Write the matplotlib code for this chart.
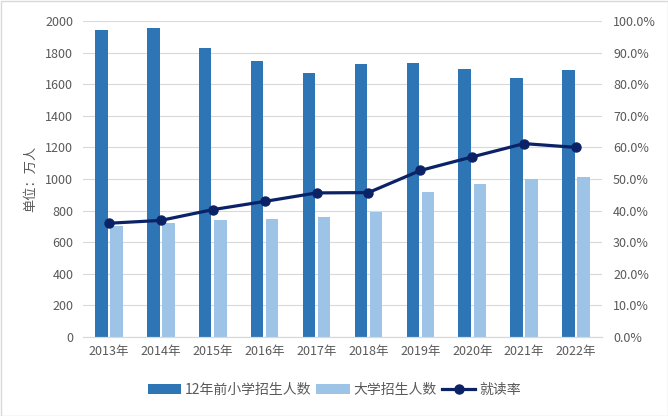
import matplotlib
matplotlib.use("Agg")
import matplotlib.pyplot as plt
from matplotlib.patches import Rectangle
from matplotlib.ticker import FuncFormatter, MultipleLocator
import numpy as np

plt.rcParams['font.family'] = ['Noto Sans CJK SC', 'DejaVu Sans']

years = ["2013年", "2014年", "2015年", "2016年", "2017年",
         "2018年", "2019年", "2020年", "2021年", "2022年"]
primary = [1944, 1953, 1829, 1747, 1671, 1729, 1736, 1696, 1637, 1692]
college = [699.8, 721.4, 737.8, 748.6, 761.5, 791.0, 914.9, 967.5, 1001.3, 1014.5]
rate = [36.0, 36.9, 40.3, 42.9, 45.6, 45.7, 52.7, 57.0, 61.2, 60.0]

c_dark = "#2E75B6"
c_light = "#9DC3E6"
c_line = "#0B2366"
c_text = "#595959"
c_grid = "#D9D9D9"

fig = plt.figure(figsize=(6.68, 4.16), dpi=100)
ax = fig.add_axes([83/668, 1-337/416, (602-83)/668, (337-21)/416])
ax2 = ax.twinx()

x = np.arange(len(years))
w = 0.24
off = 0.145
b1 = ax.bar(x - off, primary, w, color=c_dark, label="12年前小学招生人数", zorder=2)
b2 = ax.bar(x + off, college, w, color=c_light, label="大学招生人数", zorder=2)
l1, = ax2.plot(x, rate, color=c_line, lw=2.3, marker="o", ms=6.5, label="就读率", zorder=3)

ax.set_xlim(-0.5, len(years) - 0.5)
ax.set_ylim(0, 2000)
ax.yaxis.set_major_locator(MultipleLocator(200))
ax2.set_ylim(0, 100)
ax2.yaxis.set_major_locator(MultipleLocator(10))
ax2.yaxis.set_major_formatter(FuncFormatter(lambda v, p: f"{v:.1f}%"))

ax.grid(axis="y", color=c_grid, lw=0.8, zorder=0)
ax.set_axisbelow(True)
for a in (ax, ax2):
    for s in ("top", "left", "right"):
        a.spines[s].set_visible(False)
    a.spines["bottom"].set_color(c_grid)
    a.tick_params(length=0, colors=c_text, labelsize=9)

ax.set_xticks(x)
ax.set_xticklabels(years)
ax.tick_params(axis="x", pad=6)
ax.tick_params(axis="y", pad=7)
ax2.tick_params(axis="y", pad=8)

ax.set_ylabel("单位：万人", color=c_text, fontsize=9.5, labelpad=6)

fig.legend(handles=[b1, b2, l1], loc="center", bbox_to_anchor=(334/668, 1-390/416),
           ncol=3, frameon=False, fontsize=10, labelcolor=c_text,
           handlelength=2.4, handletextpad=0.25, columnspacing=0.4)

fig.patches.append(Rectangle((0.5/668, 0.5/416), 1-1/668, 1-1/416, transform=fig.transFigure,
                             fill=False, edgecolor=c_grid, lw=1))

fig.savefig("out.png", dpi=100)
